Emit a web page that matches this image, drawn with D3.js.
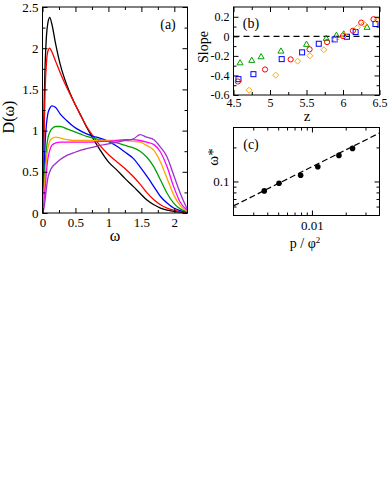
<!DOCTYPE html>
<html><head><meta charset="utf-8">
<script src="https://cdn.jsdelivr.net/npm/d3@7"></script>
<style>
html,body{margin:0;padding:0;background:#fff;}
svg{display:block;}
text{font-family:"Liberation Serif","Times New Roman",serif;fill:#000;}
</style></head>
<body>
<svg id="chart" width="390" height="484"></svg>
<script>
// ---------- DATA ----------
// Panel (a): D(omega) curves on a shared omega grid
const omega = [0,0.01,0.02,0.04,0.06,0.08,0.11,0.14,0.2,0.27,0.37,0.47,0.57,0.67,0.77,0.87,1.0,1.13,1.25,1.38,1.48,1.58,1.69,1.79,1.89,1.99,2.09,2.2];
const dBlack   = [0,0.5,1.1,1.8,2.15,2.3,2.375,2.3,2.05,1.8,1.55,1.36,1.2,1.04,0.9,0.77,0.62,0.52,0.42,0.32,0.24,0.16,0.1,0.06,0.035,0.02,0.01,0.005];
const dRed     = [0,0.35,0.85,1.5,1.82,1.96,2.0,1.96,1.84,1.7,1.52,1.36,1.2,1.05,0.93,0.82,0.71,0.62,0.54,0.44,0.35,0.25,0.16,0.1,0.06,0.035,0.018,0.008];
const dBlue    = [0,0.2,0.45,0.85,1.08,1.2,1.27,1.3,1.28,1.2,1.12,1.05,1.0,0.96,0.93,0.91,0.87,0.81,0.74,0.66,0.56,0.45,0.32,0.2,0.12,0.06,0.03,0.01];
const dGreen   = [0,0.12,0.3,0.58,0.78,0.9,0.98,1.02,1.05,1.05,1.02,0.99,0.96,0.93,0.91,0.89,0.87,0.85,0.82,0.79,0.75,0.68,0.56,0.4,0.24,0.12,0.05,0.015];
const dOrange  = [0,0.08,0.2,0.45,0.65,0.78,0.87,0.9,0.92,0.91,0.89,0.88,0.88,0.88,0.88,0.88,0.88,0.88,0.88,0.87,0.86,0.82,0.76,0.62,0.42,0.22,0.09,0.02];
const dMagenta = [0,0.05,0.12,0.3,0.5,0.65,0.76,0.82,0.85,0.86,0.86,0.86,0.86,0.86,0.86,0.87,0.87,0.88,0.89,0.89,0.88,0.86,0.83,0.74,0.56,0.32,0.13,0.03];
const dViolet  = [0,0.02,0.05,0.16,0.3,0.42,0.5,0.55,0.6,0.65,0.7,0.73,0.76,0.78,0.8,0.82,0.84,0.86,0.88,0.9,0.95,0.92,0.89,0.8,0.68,0.46,0.24,0.04];
const aXTicks = [0,0.5,1,1.5,2];
const aYTicks = [0,0.5,1,1.5,2,2.5];

// Panel (b): slope vs z
const zGreen  = [4.59,4.75,4.878,5.15,5.5,5.77,5.91,6.01,6.33];
const sGreen  = [-0.271,-0.246,-0.209,-0.151,-0.082,-0.021,0.01,0.024,0.092];
const zBlue   = [4.568,4.773,5.16,5.44,5.668,5.886,6.054,6.173,6.445];
const sBlue   = [-0.438,-0.387,-0.233,-0.164,-0.076,-0.031,-0.004,0.044,0.126];
const zRed    = [4.56,4.932,5.283,5.542,5.782,6.0,6.136,6.25,6.418];
const sRed    = [-0.462,-0.339,-0.236,-0.133,-0.059,0.003,0.057,0.14,0.175];
const zOrange = [4.714,5.078,5.378,5.546,5.737,5.9,6.013,6.196,6.286,6.463];
const sOrange = [-0.551,-0.397,-0.254,-0.199,-0.138,-0.031,0.013,0.088,0.126,0.167];
const bXTicks = [4.5,5,5.5,6,6.5];
const bYTicks = [-0.6,-0.4,-0.2,0,0.2];

// Panel (c): omega* vs p/phi^2 (log-log)
const pPhi   = [0.00376,0.00509,0.00793,0.01128,0.0174,0.0230];
const wStar  = [0.0825,0.0964,0.1134,0.135,0.170,0.196];
const fitX   = [0.002,0.04];
const fitY   = [0.0608,0.268];
const cXTicks = [0.01];
const cXMinor = [0.003,0.004,0.005,0.006,0.007,0.008,0.009,0.02,0.03];
const cYTicks = [0.1];
const cYMinor = [0.06,0.07,0.08,0.09,0.2];

// ---------- DRAWING ----------
const svg = d3.select("#chart");
svg.append("rect").attr("width",390).attr("height",484).attr("fill","#fff");

function frame(g, x0, x1, y0, y1){
  g.append("rect").attr("x",x0).attr("y",y0).attr("width",x1-x0).attr("height",y1-y0)
   .attr("fill","none").attr("stroke","#000").attr("stroke-width",1);
}
function ticks(g, xs, ys, xMaj, xMin, yMaj, yMin, xFmt, yFmt, xPad, fs){
  const [x0,x1] = xs.range(), [y1,y0] = ys.range();
  const major = 5, minor = 3;
  g.append("g").attr("transform",`translate(0,${y1})`)
   .call(d3.axisBottom(xs).tickValues(xMaj).tickSize(-major).tickPadding(xPad).tickFormat(xFmt));
  g.append("g").attr("transform",`translate(0,${y1})`)
   .call(d3.axisBottom(xs).tickValues(xMin).tickSize(-minor).tickFormat(""));
  g.append("g").attr("transform",`translate(0,${y0})`)
   .call(d3.axisTop(xs).tickValues(xMaj).tickSize(-major).tickFormat(""));
  g.append("g").attr("transform",`translate(0,${y0})`)
   .call(d3.axisTop(xs).tickValues(xMin).tickSize(-minor).tickFormat(""));
  g.append("g").attr("transform",`translate(${x0},0)`)
   .call(d3.axisLeft(ys).tickValues(yMaj).tickSize(-major).tickPadding(4).tickFormat(yFmt));
  g.append("g").attr("transform",`translate(${x0},0)`)
   .call(d3.axisLeft(ys).tickValues(yMin).tickSize(-minor).tickFormat(""));
  g.append("g").attr("transform",`translate(${x1},0)`)
   .call(d3.axisRight(ys).tickValues(yMaj).tickSize(-major).tickFormat(""));
  g.append("g").attr("transform",`translate(${x1},0)`)
   .call(d3.axisRight(ys).tickValues(yMin).tickSize(-minor).tickFormat(""));
  g.selectAll(".domain").remove();
  g.selectAll(".tick line").attr("stroke","#000").attr("stroke-width",1);
  g.selectAll(".tick text").attr("font-family","Liberation Serif, serif").attr("font-size",fs).attr("fill","#000");
}

// ----- Panel (a) -----
{
  const g = svg.append("g");
  const x = d3.scaleLinear().domain([0,2.2]).range([42.5,187.5]);
  const y = d3.scaleLinear().domain([0,2.5]).range([213,7]);
  const line = d3.line().x((d,i)=>x(omega[i])).y(d=>y(d)).curve(d3.curveMonotoneX);
  const series = [
    [dBlack,"#000000"],[dRed,"#ff0000"],[dBlue,"#0000ff"],[dGreen,"#00a000"],
    [dOrange,"#ffa500"],[dMagenta,"#ff00ff"],[dViolet,"#9932cc"]
  ];
  const clip = svg.append("clipPath").attr("id","clipA");
  clip.append("rect").attr("x",42.5).attr("y",7).attr("width",145).attr("height",206);
  const lg = g.append("g").attr("clip-path","url(#clipA)");
  series.forEach(([vals,col])=>{
    lg.append("path").datum(vals).attr("d",line).attr("fill","none")
      .attr("stroke",col).attr("stroke-width",1.3);
  });
  ticks(g, x, y, aXTicks, d3.range(0.25,2.2,0.5), aYTicks, d3.range(0.25,2.5,0.5),
        d=>String(d), d=>String(d), 5, 13);
  frame(g, 42.5, 187.5, 7, 213);
  g.append("text").attr("x",168).attr("y",29).attr("text-anchor","middle").attr("font-size",14).text("(a)");
  g.append("text").attr("transform","translate(14,117) rotate(-90)").attr("text-anchor","middle")
   .attr("font-size",16).text("D(ω)");
  g.append("text").attr("x",115).attr("y",241).attr("text-anchor","middle").attr("font-size",16).text("ω");
}

// ----- Panel (b) -----
{
  const g = svg.append("g");
  const x = d3.scaleLinear().domain([4.5,6.5]).range([233.5,379.5]);
  const y = d3.scaleLinear().domain([-0.6,0.3]).range([95,7]);
  g.append("line").attr("x1",x(4.5)).attr("x2",x(6.5)).attr("y1",y(0)).attr("y2",y(0))
   .attr("stroke","#000").attr("stroke-width",1.2).attr("stroke-dasharray","6,4");
  const mk = g.append("g").attr("fill","none").attr("stroke-width",1);
  mk.selectAll(".tri").data(zGreen).join("path")
    .attr("d",(d,i)=>{const cx=x(d),cy=y(sGreen[i]);return `M${cx},${cy-3.2}L${cx+3},${cy+2}L${cx-3},${cy+2}Z`;})
    .attr("stroke","#00a000");
  mk.selectAll(".sq").data(zBlue).join("rect")
    .attr("x",(d)=>x(d)-2.5).attr("y",(d,i)=>y(sBlue[i])-2.5).attr("width",5).attr("height",5)
    .attr("stroke","#0000ff");
  mk.selectAll(".ci").data(zRed).join("circle")
    .attr("cx",d=>x(d)).attr("cy",(d,i)=>y(sRed[i])).attr("r",2.6).attr("stroke","#ff0000");
  mk.selectAll(".di").data(zOrange).join("path")
    .attr("d",(d,i)=>{const cx=x(d),cy=y(sOrange[i]);return `M${cx},${cy-3}L${cx+3},${cy}L${cx},${cy+3}L${cx-3},${cy}Z`;})
    .attr("stroke","#ffa500");
  ticks(g, x, y, bXTicks, d3.range(4.75,6.5,0.5), bYTicks, [-0.5,-0.3,-0.1,0.1],
        d=>String(d), d=>String(d), 3, 12);
  frame(g, 233.5, 379.5, 7, 95);
  g.append("text").attr("x",251).attr("y",28).attr("text-anchor","middle").attr("font-size",14).text("(b)");
  g.append("text").attr("transform","translate(208,47) rotate(-90)").attr("text-anchor","middle")
   .attr("font-size",14).text("Slope");
  g.append("text").attr("x",307).attr("y",121).attr("text-anchor","middle").attr("font-size",15).text("z");
}

// ----- Panel (c) -----
{
  const g = svg.append("g");
  const x = d3.scaleLog().domain([0.002,0.04]).range([233.5,379.5]);
  const y = d3.scaleLog().domain([0.05,0.3]).range([215.5,127.5]);
  g.append("line").attr("x1",x(fitX[0])).attr("x2",x(fitX[1])).attr("y1",y(fitY[0])).attr("y2",y(fitY[1]))
   .attr("stroke","#000").attr("stroke-width",1.2).attr("stroke-dasharray","6,3");
  g.selectAll(".pt").data(pPhi).join("circle")
   .attr("cx",d=>x(d)).attr("cy",(d,i)=>y(wStar[i])).attr("r",2.8).attr("fill","#000");
  ticks(g, x, y, cXTicks, cXMinor, cYTicks, cYMinor, d=>String(d), d=>String(d), 5, 13);
  frame(g, 233.5, 379.5, 127.5, 215.5);
  g.append("text").attr("x",251).attr("y",149).attr("text-anchor","middle").attr("font-size",14).text("(c)");
  g.append("text").attr("transform","translate(218,157) rotate(-90)").attr("text-anchor","middle")
   .attr("font-size",15).text("ω*");
  const t = g.append("text").attr("x",305).attr("y",248).attr("text-anchor","middle").attr("font-size",14);
  t.append("tspan").text("p / φ");
  t.append("tspan").attr("dy",-5).attr("font-size",9).text("2");
}
</script>
</body></html>
